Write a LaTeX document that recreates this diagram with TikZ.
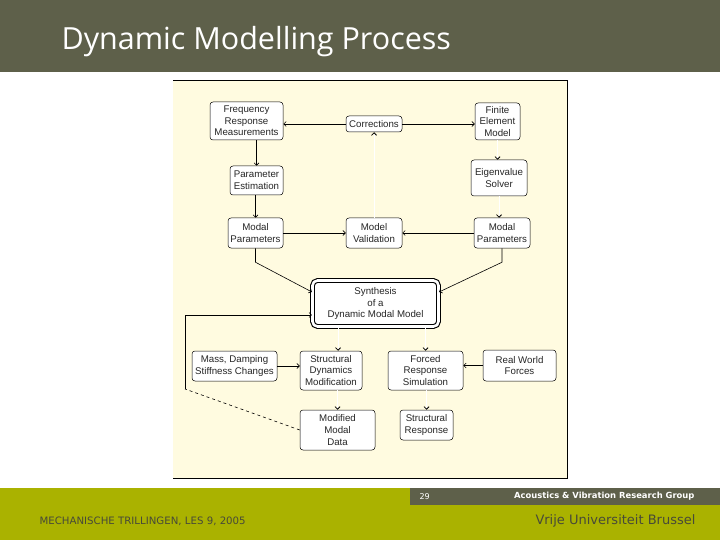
\documentclass[tikz,border=0pt]{standalone}
\usepackage{fontspec}
\setmainfont{Liberation Sans}
\newfontfamily\titlefont{Open Sans}
\newfontfamily\footfont{DejaVu Sans}
\usetikzlibrary{arrows.meta,positioning}
\definecolor{headergrey}{RGB}{94,96,74}
\definecolor{footgreen}{RGB}{170,178,0}
\definecolor{panelcream}{RGB}{255,251,224}
\definecolor{foottext}{RGB}{72,74,56}
\tikzset{
  base/.style={font=\fontsize{9.7}{11.6}\selectfont, align=center, inner sep=1pt, text=black!85},
  box/.style={base, rectangle, rounded corners=3pt, draw=black, fill=white, line width=0.5pt},
  synthbox/.style={box, line width=1.1pt, double=white, double distance=2.6pt, rounded corners=5pt},
  arr/.style={-{Straight Barb[length=2.5pt,width=5pt]}, line width=0.6pt, draw=black},
  farr/.style={arr, draw=white, line width=0.8pt, -{Straight Barb[length=2.5pt,width=5pt,black]}},
  arrd/.style={line width=0.6pt, draw=black, dashed},
}
\begin{document}
\begin{tikzpicture}[x=1pt,y=-1pt]
  \useasboundingbox (0,0) rectangle (720,540);
  \fill[white] (0,0) rectangle (720,540);
  % header and footer
  \fill[headergrey] (0,0) rectangle (720,72);
  \node[anchor=west,text=white,font=\titlefont\fontsize{30.5}{36}\selectfont] (title) at (58,42) {Dynamic Modelling Process};
  \fill[footgreen] (0,488) rectangle (720,540);
  \fill[headergrey] (410,488) rectangle (720,505);
  \node[anchor=west,text=white,font=\footfont\fontsize{8}{9}\selectfont] (page) at (416,496.5) {29};
  \node[anchor=east,text=white,font=\footfont\bfseries\fontsize{8.4}{9}\selectfont] (group) at (698,496.5) {Acoustics \& Vibration Research Group};
  \node[anchor=west,text=foottext,font=\footfont\fontsize{10.2}{11}\selectfont] (course) at (36,521) {MECHANISCHE TRILLINGEN, LES 9, 2005};
  \node[anchor=east,text=foottext,font=\footfont\fontsize{13}{14}\selectfont] (vub) at (699,521) {Vrije Universiteit Brussel};
  % panel
  \fill[panelcream] (173,80) rectangle (567,478);
  \draw[line width=0.8pt] (173,80) -- (567,80) -- (567,478) -- (173,478);
  % boxes
  \node[box,minimum width=73pt,minimum height=38pt] (frm) at (246.5,121) {Frequency\\Response\\Measurements};
  \node[box,minimum width=56pt,minimum height=16pt] (corr) at (374,124) {Corrections};
  \node[box,minimum width=45pt,minimum height=37pt] (fem) at (497.5,121.5) {Finite\\Element\\Model};
  \node[box,minimum width=56pt,minimum height=36pt] (eig) at (499,178) {Eigenvalue\\Solver};
  \node[box,minimum width=53pt,minimum height=29pt] (pe) at (256.5,180.5) {Parameter\\Estimation};
  \node[box,minimum width=55pt,minimum height=30pt] (mpl) at (255.5,233) {Modal\\Parameters};
  \node[box,minimum width=56pt,minimum height=30pt] (mv) at (374,233) {Model\\Validation};
  \node[box,minimum width=56pt,minimum height=30pt] (mpr) at (502,233) {Modal\\Parameters};
  \node[synthbox,minimum width=126pt,minimum height=46pt] (syn) at (375.5,303.5) {Synthesis\\of a\\Dynamic Modal Model};
  \node[box,minimum width=85pt,minimum height=30pt] (mass) at (234.5,366) {Mass, Damping\\Stiffness Changes};
  \node[box,minimum width=62pt,minimum height=39pt] (sdm) at (331,370.5) {Structural\\Dynamics\\Modification};
  \node[box,minimum width=75pt,minimum height=39pt] (frs) at (425.5,370.5) {Forced\\Response\\Simulation};
  \node[box,minimum width=73pt,minimum height=31pt] (rwf) at (519.5,365.5) {Real World\\Forces};
  \node[box,minimum width=75pt,minimum height=40pt] (mmd) at (337.5,430) {Modified\\Modal\\Data};
  \node[box,minimum width=53pt,minimum height=30pt] (sr) at (426.5,425) {Structural\\Response};
  % connectors
  \draw[arr] (corr.west) -- (corr.west -| frm.east);
  \draw[arr] (corr.east) -- (corr.east -| fem.west);
  \draw[arr] (pe.north |- frm.south) -- (pe.north);
  \draw[arr] ([xshift=-1pt]pe.south) -- ([xshift=-1pt]pe.south |- mpl.north);
  \draw[farr] (fem.south) -- (fem.south |- eig.north);
  \draw[farr] (eig.south) -- (eig.south |- mpr.north);
  \draw[arr] (mpl.east) -- (mv.west);
  \draw[arr] (mpr.west) -- (mv.east);
  \draw[farr] (mv.north) -- (corr.south);
  \draw[arr] (mpl.south) -- ++(0,14) -- ([yshift=11.5pt]syn.west);
  \draw[arr] (mpr.south) -- ++(0,14) -- ([yshift=11.5pt]syn.east);
  \coordinate (loop) at (185,389);
  \draw[arrd] (mmd.west) -- (loop);
  \draw[arr] (loop) |- ([yshift=-11.5pt]syn.west);
  \draw[farr] ([xshift=7pt]sdm.north |- syn.south) -- ([xshift=7pt]sdm.north);
  \draw[farr] (frs.north |- syn.south) -- (frs.north);
  \draw[arr] (mass.east) -- (mass.east -| sdm.west);
  \draw[arr] (rwf.west) -- (rwf.west -| frs.east);
  \draw[farr] (mmd.north |- sdm.south) -- (mmd.north);
  \draw[farr] (sr.north |- frs.south) -- (sr.north);
\end{tikzpicture}
\end{document}
